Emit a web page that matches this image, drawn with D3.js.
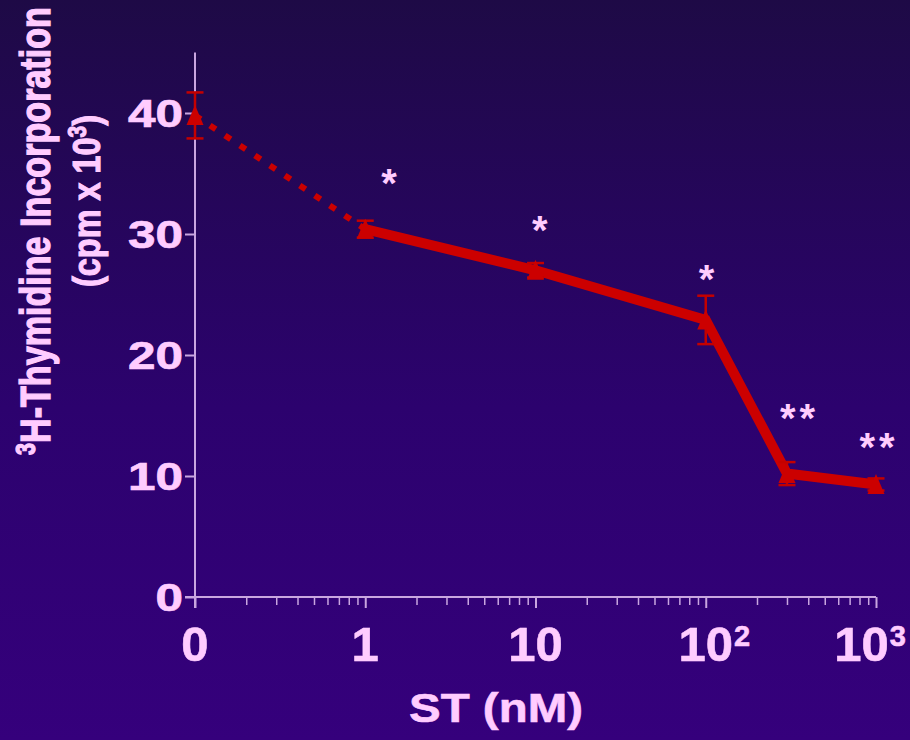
<!DOCTYPE html>
<html>
<head>
<meta charset="utf-8">
<script src="https://cdn.jsdelivr.net/npm/d3@7"></script>
<style>
  html, body { margin: 0; padding: 0; background: #2a0668; }
  svg { display: block; }
</style>
</head>
<body>
<svg id="chart" width="910" height="740"></svg>
<script>
// Dose of ST (nM); the control "0" is plotted one decade below 1 nM.
const doses = [0.1, 1, 10, 100, 300, 1000];
// 3H-thymidine incorporation, cpm x 10^3 (mean and SEM)
const incorporation = [39.8, 30.4, 27.0, 22.9, 10.2, 9.3];
const sem = [1.9, 0.7, 0.6, 2.0, 0.95, 0.5];
// Significance marks and where they sit (dose, cpm x 10^3)
const significance = ["", "*", "*", "*", "**", "**"];
const markDose = [null, 1.38, 10.6, 101, 346, 1014];
const markLevel = [null, 35.0, 31.1, 27.0, 15.5, 13.1];
// Axis ticks
const xTickValues = [0.1, 1, 10, 100, 1000];
const xTickBase = ["0", "1", "10", "10", "10"];
const xTickExp = ["", "", "", "2", "3"];
const yTickValues = [0, 10, 20, 30, 40];

const W = 910, H = 740;
const FONT = "'Liberation Sans', Arial, Helvetica, sans-serif";
const TEXT = "#ffccff";
const AXIS = "#c9a6e0";
const RED = "#cc0000";

const svg = d3.select("#chart");

// background gradient
const defs = svg.append("defs");
const grad = defs.append("linearGradient").attr("id", "bg")
  .attr("x1", 0).attr("y1", 0).attr("x2", 0).attr("y2", 1);
grad.append("stop").attr("offset", "0%").attr("stop-color", "#1e0a46");
grad.append("stop").attr("offset", "55%").attr("stop-color", "#2c026e");
grad.append("stop").attr("offset", "100%").attr("stop-color", "#35007c");
svg.append("rect").attr("width", W).attr("height", H).attr("fill", "url(#bg)");

const x = d3.scaleLog().domain([0.1, 1000]).range([195, 876]);
const y = d3.scaleLinear().domain([0, 45]).range([597, 52.5]);
const x0 = x(0.1), yBase = y(0);

// horizontal factor that brings a text node to a given width
function fitWidth(sel, target) {
  const w = sel.node().getBBox().width;
  return w > 0 ? target / w : 1;
}

// minor log ticks
const minor = [];
[0.1, 1, 10, 100].forEach(d => { for (let k = 2; k <= 9; k++) minor.push(d * k); });

const gMinor = svg.append("g").attr("transform", `translate(0,${yBase})`)
  .call(d3.axisBottom(x).tickValues(minor).tickSize(8).tickFormat(""));
gMinor.select(".domain").remove();
gMinor.selectAll("line").attr("stroke", AXIS).attr("stroke-width", 1.5);

const gMajor = svg.append("g").attr("transform", `translate(0,${yBase})`)
  .call(d3.axisBottom(x).tickValues(xTickValues).tickSize(11).tickFormat(""));
gMajor.select(".domain").remove();
gMajor.selectAll("line").attr("stroke", AXIS).attr("stroke-width", 2);

// axis lines
svg.append("line").attr("x1", x0 - 10).attr("x2", x(1000))
  .attr("y1", yBase).attr("y2", yBase).attr("stroke", AXIS).attr("stroke-width", 2);
svg.append("line").attr("x1", x0).attr("x2", x0)
  .attr("y1", y(45)).attr("y2", yBase + 11).attr("stroke", AXIS).attr("stroke-width", 2);

// x tick labels: the mantissa is centred on the tick, exponent hangs to the right
xTickValues.forEach((v, i) => {
  const t = svg.append("text")
    .attr("x", x(v)).attr("y", 661)
    .attr("font-family", FONT).attr("font-weight", "bold")
    .attr("font-size", 49).attr("fill", TEXT)
    .attr("stroke", TEXT).attr("stroke-width", 0.6);
  const base = t.append("tspan").text(xTickBase[i]);
  const bw = base.node().getComputedTextLength();
  if (xTickExp[i]) {
    t.append("tspan").attr("font-size", 29).attr("dx", 1).attr("dy", -15).text(xTickExp[i]);
  }
  let left = x(v) - bw / 2;
  const bb = t.node().getBBox();
  const overflow = left + bb.width - 906;
  if (overflow > 0) left -= overflow;
  t.attr("x", left);
});

// y axis
const gy = svg.append("g").attr("transform", `translate(${x0},0)`)
  .call(d3.axisLeft(y).tickValues(yTickValues).tickSize(10).tickFormat(d3.format("d")));
gy.select(".domain").remove();
gy.selectAll("line").attr("stroke", AXIS).attr("stroke-width", 2);
gy.selectAll("text")
  .attr("font-family", FONT).attr("font-weight", "bold")
  .attr("font-size", 38).attr("fill", TEXT)
  .attr("stroke", TEXT).attr("stroke-width", 0.7)
  .attr("x", 0).attr("dy", "0.36em")
  .attr("transform", "translate(-12,0) scale(1.3,1)");

// axis titles
const xTitle = svg.append("text")
  .attr("text-anchor", "middle")
  .attr("font-family", FONT).attr("font-weight", "bold")
  .attr("font-size", 40).attr("fill", TEXT)
  .attr("stroke", TEXT).attr("stroke-width", 0.6)
  .text("ST (nM)");
xTitle.attr("transform", `translate(496,722) scale(${fitWidth(xTitle, 174)},1)`);

const yTitle1 = svg.append("text")
  .attr("text-anchor", "middle")
  .attr("font-family", FONT).attr("font-weight", "bold")
  .attr("font-size", 43).attr("fill", TEXT)
  .attr("stroke", TEXT).attr("stroke-width", 1.3);
yTitle1.append("tspan").attr("font-size", 27).attr("dy", -15).text("3");
yTitle1.append("tspan").attr("dy", 15).text("H-Thymidine Incorporation");
yTitle1.attr("transform", `translate(50,231) rotate(-90) scale(${fitWidth(yTitle1, 448)},1)`);

const yTitle2 = svg.append("text")
  .attr("text-anchor", "middle")
  .attr("font-family", FONT).attr("font-weight", "bold")
  .attr("font-size", 39).attr("fill", TEXT)
  .attr("stroke", TEXT).attr("stroke-width", 1.1);
yTitle2.append("tspan").text("(cpm x 10");
yTitle2.append("tspan").attr("font-size", 25).attr("dy", -14).text("3");
yTitle2.append("tspan").attr("dy", 14).text(")");
yTitle2.attr("transform", `translate(100,201) rotate(-90) scale(${fitWidth(yTitle2, 172)},1)`);

// data lines: dotted from control to 1 nM, solid for the dose series
const pts = doses.map((d, i) => [x(d), y(incorporation[i])]);
const line = d3.line();
svg.append("path").attr("d", line(pts.slice(0, 2)))
  .attr("fill", "none").attr("stroke", RED).attr("stroke-width", 6)
  .attr("stroke-dasharray", "7,11");
svg.append("path").attr("d", line(pts.slice(1)))
  .attr("fill", "none").attr("stroke", RED).attr("stroke-width", 10)
  .attr("stroke-linejoin", "miter").attr("stroke-miterlimit", 4);

// error bars
const eb = svg.append("g").attr("stroke", "#c40000").attr("stroke-width", 2.5).attr("fill", "none");
doses.forEach((d, i) => {
  const cx = x(d), top = y(incorporation[i] + sem[i]), bot = y(incorporation[i] - sem[i]);
  eb.append("line").attr("x1", cx).attr("x2", cx).attr("y1", top).attr("y2", bot);
  eb.append("line").attr("x1", cx - 8.5).attr("x2", cx + 8.5).attr("y1", top).attr("y2", top);
  eb.append("line").attr("x1", cx - 8.5).attr("x2", cx + 8.5).attr("y1", bot).attr("y2", bot);
});

// triangle markers
svg.append("g").selectAll("path").data(pts).join("path")
  .attr("d", ([cx, cy]) => {
    const p = d3.path();
    p.moveTo(cx, cy - 10.5);
    p.lineTo(cx + 8.5, cy + 9.5);
    p.lineTo(cx - 8.5, cy + 9.5);
    p.closePath();
    return p.toString();
  })
  .attr("fill", RED);

// significance marks
significance.forEach((s, i) => {
  if (!s) return;
  svg.append("text")
    .attr("x", x(markDose[i]) + (s.length > 1 ? 2 : 0))
    .attr("y", y(markLevel[i]))
    .attr("dy", "0.575em")
    .attr("text-anchor", "middle")
    .attr("font-family", FONT).attr("font-weight", "bold")
    .attr("font-size", 40).attr("letter-spacing", s.length > 1 ? 4 : 0)
    .attr("fill", TEXT)
    .text(s);
});
</script>
</body>
</html>
